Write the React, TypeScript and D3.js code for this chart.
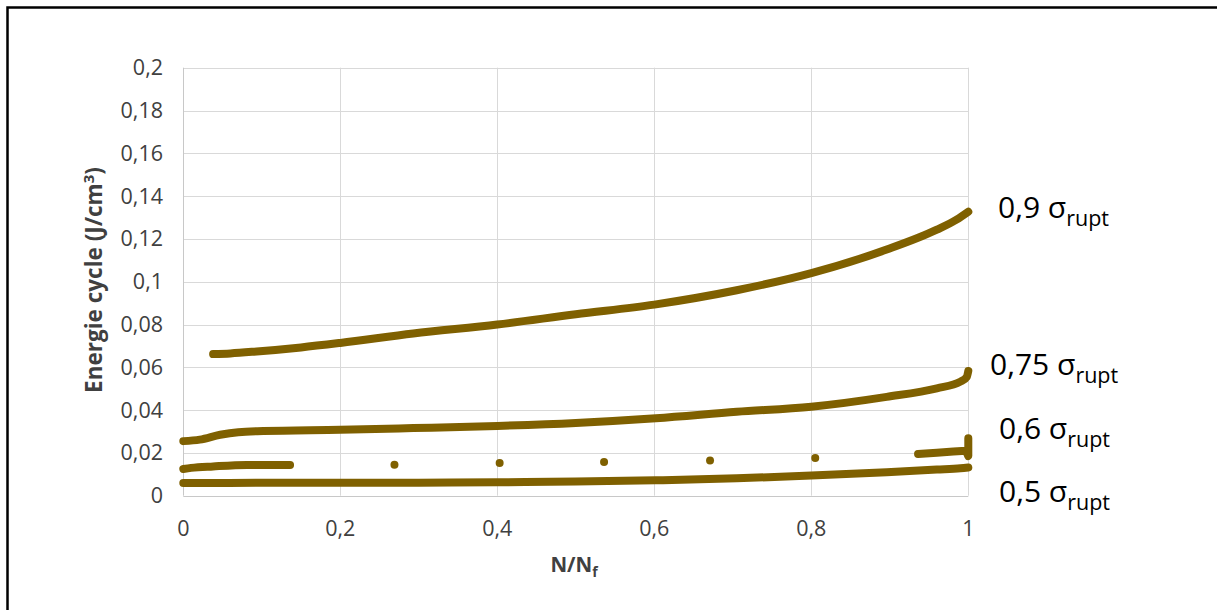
import React from "react";
import * as d3 from "d3";

const xTicks = [0, 0.2, 0.4, 0.6, 0.8, 1];
const yTicks = [0, 0.02, 0.04, 0.06, 0.08, 0.1, 0.12, 0.14, 0.16, 0.18, 0.2];

// series 0,9 σrupt
const s09: [number, number][] = [
  [0.038, 0.0662], [0.06, 0.0665], [0.0935, 0.0674], [0.15, 0.0693], [0.2, 0.0714],
  [0.293, 0.0758], [0.4, 0.08], [0.5, 0.0848], [0.6, 0.0893], [0.705, 0.096],
  [0.8, 0.104], [0.896, 0.115], [0.96, 0.1243], [0.985, 0.129], [1.0, 0.1327],
];
// series 0,75 σrupt
const s075: [number, number][] = [
  [0, 0.0255], [0.021, 0.0262], [0.047, 0.0285], [0.07, 0.0297], [0.102, 0.0302],
  [0.2, 0.0308], [0.293, 0.0316], [0.4, 0.0326], [0.5, 0.034], [0.602, 0.0362],
  [0.705, 0.0392], [0.8, 0.0416], [0.896, 0.0462], [0.96, 0.0502], [0.99, 0.0533],
  [0.998, 0.0555], [1.0, 0.0583],
];
// series 0,6 σrupt (three parts)
const s06Start: [number, number][] = [
  [0, 0.0125], [0.01, 0.013], [0.038, 0.0137], [0.081, 0.0144], [0.136, 0.0144],
];
const s06Sparse: [number, number][] = [
  [0.269, 0.0145], [0.403, 0.0153], [0.536, 0.0157], [0.671, 0.0165], [0.805, 0.0176],
];
const s06End: [number, number][] = [
  [0.936, 0.0195], [0.96, 0.0201], [0.981, 0.0206], [0.997, 0.021], [1.0, 0.0185], [1.0, 0.0268],
];
// series 0,5 σrupt
const s05: [number, number][] = [
  [0, 0.0059], [0.1, 0.006], [0.2, 0.006], [0.3, 0.0061], [0.4, 0.0063], [0.5, 0.0066],
  [0.602, 0.0072], [0.705, 0.0081], [0.8, 0.0094], [0.896, 0.011], [0.96, 0.0122],
  [0.99, 0.0128], [1.0, 0.0132],
];

const seriesLabels = [
  { main: "0,9 σ", sub: "rupt", x: 998, y: 218 },
  { main: "0,75 σ", sub: "rupt", x: 990, y: 375 },
  { main: "0,6 σ", sub: "rupt", x: 999, y: 439 },
  { main: "0,5 σ", sub: "rupt", x: 999, y: 502 },
];

const COLOR = "#7F6000";
const fmt = (v: number) => String(+v.toFixed(2)).replace(".", ",");

export default function App() {
  const W = 1217, H = 610;
  const x = d3.scaleLinear().domain([0, 1]).range([183.3, 968.3]);
  const y = d3.scaleLinear().domain([0, 0.2]).range([495.7, 67.7]);
  const lineM = d3.line<[number, number]>().x(d => x(d[0])).y(d => y(d[1])).curve(d3.curveMonotoneX);
  const lineL = d3.line<[number, number]>().x(d => x(d[0])).y(d => y(d[1]));
  const font = "'Open Sans', sans-serif";
  const sw = 8;
  return (
    <svg width={W} height={H} style={{ position: "absolute", left: 0, top: 0, background: "#fff" }}>
      <rect x={7.5} y={7.5} width={1300} height={700} fill="white" stroke="black" strokeWidth={2.5} />
      {yTicks.map(t => (
        <line key={"gy" + t} x1={x(0)} x2={x(1)} y1={Math.round(y(t)) + 0.5} y2={Math.round(y(t)) + 0.5}
          stroke={t === 0 ? "#c8c8c8" : "#d9d9d9"} strokeWidth={1} />
      ))}
      {xTicks.map(t => (
        <line key={"gx" + t} y1={y(0.2)} y2={y(0)} x1={Math.round(x(t)) + 0.5} x2={Math.round(x(t)) + 0.5}
          stroke={t === 0 ? "#c8c8c8" : "#d9d9d9"} strokeWidth={1} />
      ))}
      {yTicks.map(t => (
        <text key={"ty" + t} x={163} y={y(t)} dy="0.35em" textAnchor="end" fontFamily={font} fontSize={21.5} fill="#404040">{fmt(t)}</text>
      ))}
      {xTicks.map(t => (
        <text key={"tx" + t} x={x(t)} y={536} textAnchor="middle" fontFamily={font} fontSize={21.5} fill="#404040">{fmt(t)}</text>
      ))}
      <text transform={`translate(102,${280}) rotate(-90)`} textAnchor="middle" fontFamily={font} fontSize={22.5} fontWeight="bold" fill="#404040">
        Energie cycle (J/cm<tspan dy={-8} fontSize={15}>3</tspan><tspan dy={8}>)</tspan>
      </text>
      <text x={574} y={572} textAnchor="middle" fontFamily={font} fontSize={20.5} fontWeight="bold" fill="#404040">
        N/N<tspan dy={5} fontSize={14}>f</tspan>
      </text>
      <g fill="none" stroke={COLOR} strokeWidth={sw} strokeLinecap="round" strokeLinejoin="round">
        <path d={lineM(s09) || ""} />
        <path d={lineM(s075) || ""} />
        <path d={lineM(s06Start) || ""} />
        <path d={lineL(s06End) || ""} />
        <path d={lineM(s05) || ""} />
      </g>
      {s06Sparse.map((d, i) => (
        <circle key={"sp" + i} cx={x(d[0])} cy={y(d[1])} r={4} fill={COLOR} />
      ))}
      {seriesLabels.map((l, i) => (
        <text key={"lab" + i} x={l.x} y={l.y} fontFamily={font} fontSize={30} fill="#000">
          {l.main}<tspan dy={8} fontSize={21.5}>{l.sub}</tspan>
        </text>
      ))}
    </svg>
  );
}
